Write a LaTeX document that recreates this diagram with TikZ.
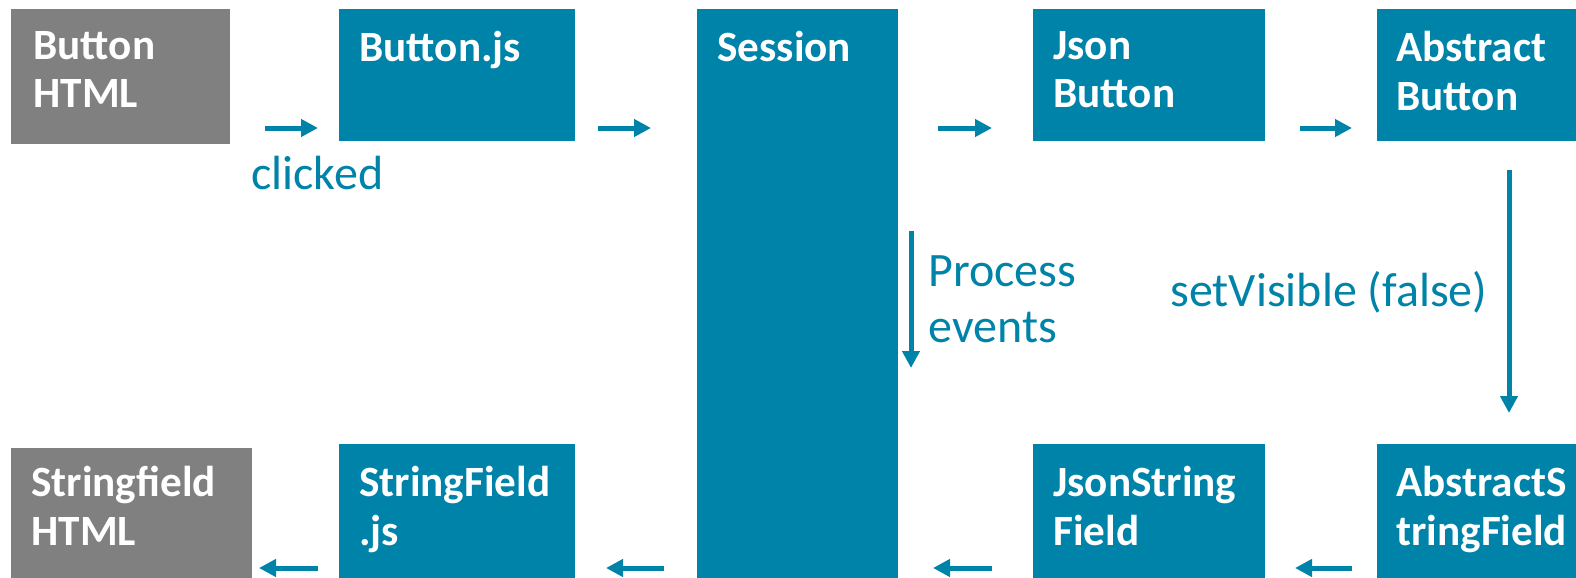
\documentclass[tikz,border=0pt]{standalone}
\usepackage{fontspec}
\setmainfont{Carlito}
\usetikzlibrary{arrows.meta}

\definecolor{flowteal}{RGB}{0,131,168}
\definecolor{htmlgray}{RGB}{128,128,128}

\tikzset{
	block/.style={fill=flowteal, draw=none, anchor=north west, inner sep=0pt},
	htmlblock/.style={fill=htmlgray, draw=none, anchor=north west, inner sep=0pt},
	blocktext/.style={anchor=north west, text=white, align=left, inner sep=0pt,
		font=\fontsize{21.6}{24.2}\selectfont\bfseries},
	flow/.style={draw=flowteal, line width=2.5pt, -{Triangle[length=8.5pt,width=8.5pt]}},
	flowtext/.style={text=flowteal, align=left, inner sep=0pt,
		font=\fontsize{24}{27.7}\selectfont}
}

\begin{document}
\begin{tikzpicture}[x=0.5pt,y=-0.5pt]
	\useasboundingbox (0,0) rectangle (1576,578);

	% top row
	\node[htmlblock, minimum width=109.5pt, minimum height=67.5pt] (btnhtml) at (11,9) {};
	\node[block, minimum width=118pt, minimum height=66pt] (btnjs) at (339,9) {};
	\node[block, minimum width=100.5pt, minimum height=284.5pt] (session) at (697,9) {};
	\node[block, minimum width=116pt, minimum height=66pt] (jsonbtn) at (1033,9) {};
	\node[block, minimum width=99.5pt, minimum height=66pt] (absbtn) at (1377,9) {};

	% bottom row
	\node[htmlblock, minimum width=120.5pt, minimum height=65pt] (sfhtml) at (11,448) {};
	\node[block, minimum width=118pt, minimum height=67pt] (sfjs) at (339,444) {};
	\node[block, minimum width=116pt, minimum height=67pt] (jsonsf) at (1033,444) {};
	\node[block, minimum width=99.5pt, minimum height=67pt] (abssf) at (1377,444) {};

	% texts
	\node[blocktext] (btnhtmltext) at ([shift={(11pt,-11pt)}]btnhtml.north west) {Button\\HTML};
	\node[blocktext] (btnjstext) at ([shift={(10pt,-11pt)}]btnjs.north west) {Button.js};
	\node[blocktext] (sessiontext) at ([shift={(10pt,-11pt)}]session.north west) {Session};
	\node[blocktext] (jsonbtntext) at ([shift={(10pt,-11pt)}]jsonbtn.north west) {Json\\Button};
	\node[blocktext] (absbtntext) at ([shift={(9.5pt,-11pt)}]absbtn.north west) {Abstract\\Button};
	\node[blocktext] (sfhtmltext) at ([shift={(10pt,-9pt)}]sfhtml.north west) {Stringfield\\HTML};
	\node[blocktext] (sfjstext) at ([shift={(10pt,-11pt)}]sfjs.north west) {StringField\\.js};
	\node[blocktext] (jsonsftext) at ([shift={(10pt,-11pt)}]jsonsf.north west) {JsonString\\Field};
	\node[blocktext] (abssftext) at ([shift={(9.5pt,-11pt)}]abssf.north west) {AbstractS\\tringField};

	% arrow ends
	\coordinate (a1) at (265,128); \coordinate (b1) at (318,128);
	\coordinate (a2) at (598,128); \coordinate (b2) at (651,128);
	\coordinate (a3) at (938,128); \coordinate (b3) at (992,128);
	\coordinate (a4) at (1300,128); \coordinate (b4) at (1352,128);
	\coordinate (a5) at (1509,170); \coordinate (b5) at (1509,413);
	\coordinate (a6) at (911,231); \coordinate (b6) at (911,368);
	\coordinate (a7) at (1352,568); \coordinate (b7) at (1295,568);
	\coordinate (a8) at (992,568); \coordinate (b8) at (933,568);
	\coordinate (a9) at (664,568); \coordinate (b9) at (606,568);
	\coordinate (a10) at (318,568); \coordinate (b10) at (259,568);

	\foreach \i in {1,...,10}{
		\draw[flow] (a\i) -- (b\i);
	}

	% labels
	\node[flowtext, anchor=base west] (clicked) at (251,189) {clicked};
	\node[flowtext, anchor=base west] (process) at (928,342) {Process\\events};
	\node[flowtext, anchor=base west] (visible) at (1170,306) {setVisible (false)};

\end{tikzpicture}
\end{document}
